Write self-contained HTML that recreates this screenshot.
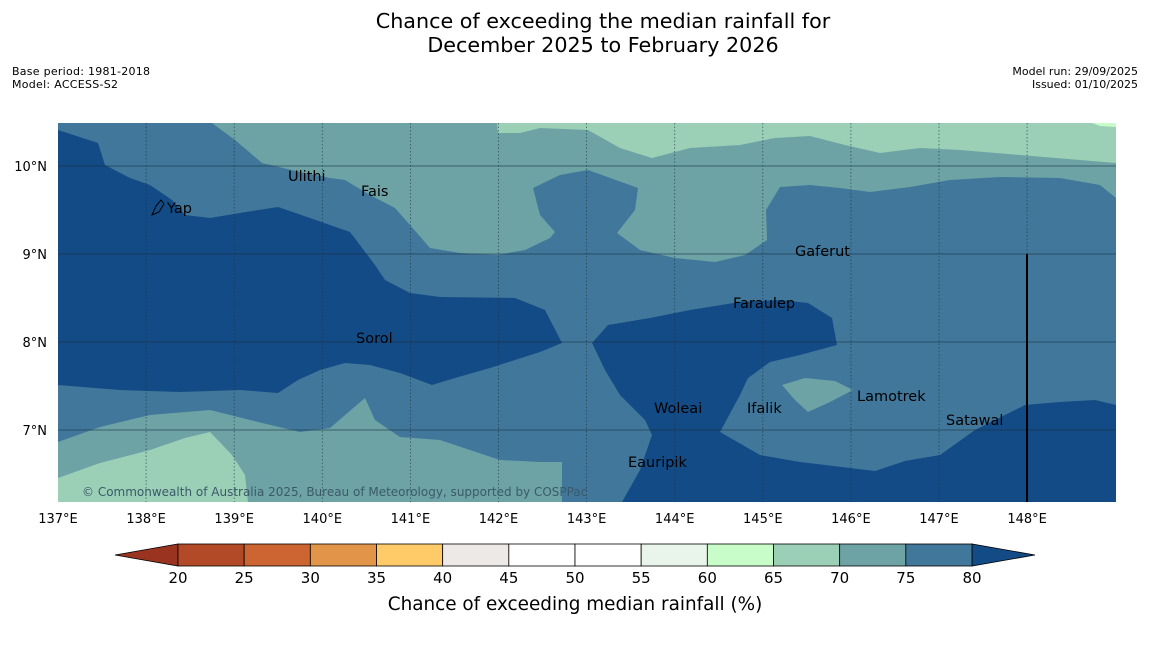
<!DOCTYPE html>
<html><head><meta charset="utf-8"><style>
body{margin:0;background:#fff;font-family:"Liberation Sans","DejaVu Sans",sans-serif;}
svg text{font-family:"DejaVu Sans","Liberation Sans",sans-serif;}
</style></head><body>
<svg id="chart" width="1150" height="644" xmlns="http://www.w3.org/2000/svg">
<rect width="1150" height="644" fill="#fff"/>
<text x="603" y="28" font-size="20.7" text-anchor="middle">Chance of exceeding the median rainfall for</text>
<text x="603" y="52" font-size="20.7" text-anchor="middle">December 2025 to February 2026</text>
<text x="12" y="75" font-size="11" textLength="138">Base period: 1981-2018</text>
<text x="12" y="88" font-size="11" textLength="106">Model: ACCESS-S2</text>
<text x="1138" y="75" font-size="11" text-anchor="end">Model run: 29/09/2025</text>
<text x="1138" y="88" font-size="11" text-anchor="end">Issued: 01/10/2025</text>
<defs><clipPath id="mapclip"><rect x="58" y="123" width="1058" height="379"/></clipPath></defs>
<g id="map" clip-path="url(#mapclip)">
<rect x="58" y="123" width="1058" height="379" fill="#41779a"/>
<polygon fill="#134b86" points="58,130 98,143 105,165 130,178 150,185 172,200 185,215 210,218 240,213 278,207 310,218 350,232 375,265 385,280 410,293 440,297 515,298 545,310 562,343 540,352 490,368 455,378 432,385 400,373 370,365 345,363 320,370 298,380 278,393 240,390 180,392 120,390 58,385"/>
<polygon fill="#134b86" points="592,343 608,325 650,318 690,310 740,302 780,300 808,303 832,318 837,345 800,355 770,362 748,378 740,395 720,432 760,455 800,462 850,468 875,471 905,461 940,455 975,430 1025,405 1060,402 1095,400 1116,405 1116,502 622,502 640,470 652,435 645,420 620,395 605,370"/>
<polygon fill="#6ea3a6" points="212,123 235,140 262,163 300,172 330,178 345,180 370,195 395,208 410,225 430,248 460,253 497,255 525,250 550,238 555,232 540,215 533,188 560,175 588,170 638,188 635,210 617,233 640,250 675,258 715,262 745,255 767,240 766,210 780,187 810,185 840,188 870,192 910,187 950,180 1000,177 1060,178 1100,185 1116,198 1116,123"/>
<polygon fill="#9bcfb6" points="497,123 498,133 520,133 540,128 588,130 620,148 652,158 690,148 740,145 775,138 810,136 845,145 880,153 920,148 960,150 1020,155 1080,160 1116,163 1116,123"/>
<polygon fill="#c8fcc8" points="1092,123 1100,126 1116,127 1116,123"/>
<polygon fill="#6ea3a6" points="58,442 100,427 150,415 210,410 250,420 300,432 330,428 365,398 375,420 400,437 440,440 470,450 500,460 540,462 562,462 562,502 58,502"/>
<polygon fill="#9bcfb6" points="58,478 100,463 150,450 185,438 210,432 232,455 245,475 248,502 58,502"/>
<polygon fill="#6ea3a6" points="782,385 805,378 835,381 853,390 830,402 808,412 795,400"/>
<g id="grid"></g>
<line x1="1027" y1="254" x2="1027" y2="502" stroke="#000" stroke-width="2"/>
<g font-size="14.5" fill="#000">
<text x="167" y="213">Yap</text>
<path d="M152,215 L156,206 L161,200 L164,204 L159,212 Z" fill="none" stroke="#000" stroke-width="1"/>
<text x="288" y="181">Ulithi</text>
<text x="361" y="196">Fais</text>
<text x="795" y="256">Gaferut</text>
<text x="733" y="308">Faraulep</text>
<text x="356" y="343">Sorol</text>
<text x="857" y="401">Lamotrek</text>
<text x="654" y="413">Woleai</text>
<text x="747" y="413">Ifalik</text>
<text x="946" y="425">Satawal</text>
<text x="628" y="467">Eauripik</text>
</g>
<text x="82" y="496" font-size="12" fill="#3a5a6a">© Commonwealth of Australia 2025, Bureau of Meteorology, supported by COSPPac</text>
</g>
<g id="axes"></g>
<g id="colorbar"></g>
<text x="575" y="610" font-size="18.4" text-anchor="middle">Chance of exceeding median rainfall (%)</text>
</svg>
<script>
const lonTicks = [137,138,139,140,141,142,143,144,145,146,147,148];
const latTicks = [7,8,9,10];
const cbLevels = [20,25,30,35,40,45,50,55,60,65,70,75,80];
const cbColors = ["#b34a27","#cc6532","#e29548","#fecb68","#ede9e6","#ffffff","#ffffff","#e9f5ea","#c8fcc8","#9bcfb6","#6ea3a6","#41779a"];
const NS="http://www.w3.org/2000/svg";
const xLon = lon => 58 + (lon-137)*88.1;
const yLat = lat => 166 + (10-lat)*88;
function mk(tag, attrs, parent){const e=document.createElementNS(NS,tag);for(const k in attrs)e.setAttribute(k,attrs[k]);parent.appendChild(e);return e;}
const grid=document.getElementById('grid'), axes=document.getElementById('axes'), cb=document.getElementById('colorbar');
lonTicks.forEach(l=>{
  const x=xLon(l);
  if(l>137){const g=mk('line',{x1:x,y1:123,x2:x,y2:502,stroke:'#1a3040','stroke-width':0.8,'stroke-dasharray':'1.5,2','opacity':0.7},grid);
  
  }
  const t=mk('text',{x:x,y:523,'font-size':13,'text-anchor':'middle'},axes);
  t.textContent=l+'°E';
  
  
});
latTicks.forEach(l=>{
  const y=yLat(l);
  const g=mk('line',{x1:58,y1:y,x2:1116,y2:y,stroke:'#1a3040','stroke-width':1,'opacity':0.6},grid);
  
  
  const t=mk('text',{x:47,y:y+5,'font-size':13,'text-anchor':'end'},axes);
  t.textContent=l+'°N';
  
  
});
const cbX0=178, cbX1=972, cbY=544, cbH=22;
const cx = v => cbX0 + (v-cbLevels[0])/(cbLevels[cbLevels.length-1]-cbLevels[0])*(cbX1-cbX0);
const lo=mk('polygon',{points:`115,555 ${cbX0},${cbY} ${cbX0},${cbY+cbH}`,fill:'#9a3421',stroke:'#000','stroke-width':0.8},cb);


const hi=mk('polygon',{points:`1035,555 ${cbX1},${cbY} ${cbX1},${cbY+cbH}`,fill:'#134b86',stroke:'#000','stroke-width':0.8},cb);


cbColors.forEach((c,i)=>{
  const r=mk('rect',{x:cx(cbLevels[i]),y:cbY,width:cx(cbLevels[i+1])-cx(cbLevels[i]),height:cbH,fill:c,stroke:'#000','stroke-width':0.8},cb);
  
  
});
cbLevels.forEach(v=>{
  const t=mk('text',{x:cx(v),y:583,'font-size':15,'text-anchor':'middle'},cb);
  t.textContent=v;
  
  
});
</script>
</body></html>
